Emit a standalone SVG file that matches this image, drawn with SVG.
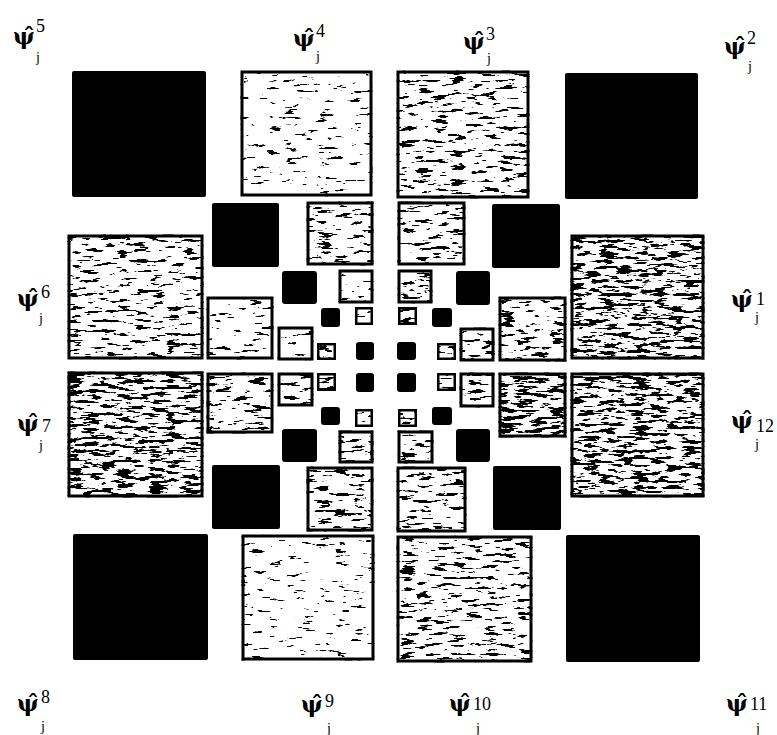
<svg xmlns="http://www.w3.org/2000/svg" width="777" height="735" viewBox="0 0 777 735">
<style>
.blk{fill:#000}
.tex{fill:#fff;stroke:#000;stroke-width:3}
.tl{filter:url(#tL)}
.tm{filter:url(#tM)}
.td{filter:url(#tD)}
.lab{font-family:"Liberation Serif",serif;fill:#000}
.psi{font-family:"DejaVu Serif",serif;font-weight:bold;font-size:23px}
.sup{font-size:18px}
.sub{font-size:14px}
</style>
<defs>
<filter id="tL" x="-0.05" y="-0.05" width="1.1" height="1.1" color-interpolation-filters="sRGB">
<feTurbulence type="fractalNoise" baseFrequency="0.06 0.3" numOctaves="4" seed="4" result="n"/>
<feColorMatrix in="n" type="matrix" values="0 0 0 0 0  0 0 0 0 0  0 0 0 0 0  -1 0 0 0 1" result="a"/>
<feComponentTransfer in="a" result="s"><feFuncA type="linear" slope="25" intercept="-16.6"/></feComponentTransfer>
<feComposite in="s" in2="SourceGraphic" operator="in" result="c"/>
<feMerge><feMergeNode in="SourceGraphic"/><feMergeNode in="c"/></feMerge>
</filter>
<filter id="tM" x="-0.05" y="-0.05" width="1.1" height="1.1" color-interpolation-filters="sRGB">
<feTurbulence type="fractalNoise" baseFrequency="0.06 0.3" numOctaves="4" seed="9" result="n"/>
<feColorMatrix in="n" type="matrix" values="0 0 0 0 0  0 0 0 0 0  0 0 0 0 0  -1 0 0 0 1" result="a"/>
<feComponentTransfer in="a" result="s"><feFuncA type="linear" slope="25" intercept="-15"/></feComponentTransfer>
<feComposite in="s" in2="SourceGraphic" operator="in" result="c"/>
<feMerge><feMergeNode in="SourceGraphic"/><feMergeNode in="c"/></feMerge>
</filter>
<filter id="tD" x="-0.05" y="-0.05" width="1.1" height="1.1" color-interpolation-filters="sRGB">
<feTurbulence type="fractalNoise" baseFrequency="0.06 0.3" numOctaves="4" seed="17" result="n"/>
<feColorMatrix in="n" type="matrix" values="0 0 0 0 0  0 0 0 0 0  0 0 0 0 0  -1 0 0 0 1" result="a"/>
<feComponentTransfer in="a" result="s"><feFuncA type="linear" slope="25" intercept="-13.2"/></feComponentTransfer>
<feComposite in="s" in2="SourceGraphic" operator="in" result="c"/>
<feMerge><feMergeNode in="SourceGraphic"/><feMergeNode in="c"/></feMerge>
</filter>
</defs>
<rect width="777" height="735" fill="#fff"/>
<g id="scale1">
<rect class="blk" x="72" y="71" width="134" height="126" rx="2"/>
<rect class="tex tl" x="242" y="72" width="129" height="123"/>
<rect class="tex tm" x="398" y="72" width="130" height="125"/>
<rect class="blk" x="565" y="73" width="133" height="126" rx="2"/>
<rect class="tex tm" x="69" y="236" width="133" height="122"/>
<rect class="tex td" x="69" y="373" width="133" height="123"/>
<rect class="tex td" x="572" y="236" width="131" height="122"/>
<rect class="tex td" x="572" y="374" width="131" height="122"/>
<rect class="blk" x="73" y="534" width="135" height="126" rx="2"/>
<rect class="tex tl" x="243" y="536" width="130" height="123"/>
<rect class="tex tm" x="398" y="537" width="133" height="124"/>
<rect class="blk" x="566" y="535" width="134" height="127" rx="2"/>
</g>
<g id="scale2">
<rect class="blk" x="212" y="203" width="67" height="64" rx="2"/>
<rect class="tex tm" x="308" y="203" width="64" height="61"/>
<rect class="tex tm" x="399" y="203" width="65" height="61"/>
<rect class="blk" x="492" y="204" width="68" height="64" rx="2"/>
<rect class="tex tl" x="208" y="298" width="64" height="60"/>
<rect class="tex tm" x="208" y="374" width="64" height="58"/>
<rect class="tex tm" x="500" y="298" width="65" height="62"/>
<rect class="tex td" x="500" y="374" width="65" height="62"/>
<rect class="blk" x="212" y="465" width="68" height="64" rx="2"/>
<rect class="tex tm" x="308" y="468" width="64" height="62"/>
<rect class="tex tm" x="398" y="468" width="67" height="63"/>
<rect class="blk" x="493" y="466" width="68" height="64" rx="2"/>
</g>
<g id="scale3">
<rect class="blk" x="282" y="271" width="35" height="33" rx="3"/>
<rect class="tex tl" x="340" y="271" width="32" height="31"/>
<rect class="tex tm" x="399" y="271" width="32" height="31"/>
<rect class="blk" x="456" y="271" width="34" height="34" rx="3"/>
<rect class="tex tl" x="279" y="328" width="33" height="31"/>
<rect class="tex tm" x="461" y="329" width="32" height="31"/>
<rect class="tex tm" x="279" y="374" width="33" height="31"/>
<rect class="tex tm" x="461" y="374" width="32" height="32"/>
<rect class="blk" x="282" y="429" width="35" height="33" rx="3"/>
<rect class="tex tm" x="340" y="432" width="32" height="30"/>
<rect class="tex tm" x="399" y="432" width="33" height="30"/>
<rect class="blk" x="456" y="429" width="34" height="33" rx="3"/>
</g>
<g id="scale4">
<rect class="blk" x="321" y="308" width="19" height="19" rx="3"/>
<rect class="tex tm" x="356" y="308" width="16" height="16"/>
<rect class="tex tm" x="399" y="308" width="17" height="16"/>
<rect class="blk" x="432" y="308" width="20" height="19" rx="3"/>
<rect class="tex tm" x="318" y="344" width="17" height="15"/>
<rect class="blk" x="356" y="342" width="18" height="18" rx="3"/>
<rect class="blk" x="397" y="342" width="19" height="18" rx="3"/>
<rect class="tex tm" x="438" y="344" width="17" height="15"/>
<rect class="tex tm" x="318" y="374" width="17" height="16"/>
<rect class="blk" x="356" y="373" width="18" height="19" rx="3"/>
<rect class="blk" x="397" y="373" width="19" height="19" rx="3"/>
<rect class="tex tm" x="438" y="374" width="17" height="16"/>
<rect class="blk" x="321" y="407" width="19" height="18" rx="3"/>
<rect class="tex tm" x="356" y="410" width="16" height="16"/>
<rect class="tex tm" x="399" y="410" width="17" height="16"/>
<rect class="blk" x="432" y="407" width="20" height="18" rx="3"/>
</g>
<g id="labels">
<g id="label-5"><text class="lab"><tspan class="psi" x="13" y="44">ψ̂</tspan><tspan class="sup" x="36" y="32">5</tspan><tspan class="sub" x="36" y="62">j</tspan></text></g>
<g id="label-4"><text class="lab"><tspan class="psi" x="293" y="46">ψ̂</tspan><tspan class="sup" x="316" y="37">4</tspan><tspan class="sub" x="316" y="61">j</tspan></text></g>
<g id="label-3"><text class="lab"><tspan class="psi" x="463" y="49">ψ̂</tspan><tspan class="sup" x="486" y="40">3</tspan><tspan class="sub" x="487" y="63">j</tspan></text></g>
<g id="label-2"><text class="lab"><tspan class="psi" x="724" y="54">ψ̂</tspan><tspan class="sup" x="747" y="44">2</tspan><tspan class="sub" x="748" y="71">j</tspan></text></g>
<g id="label-6"><text class="lab"><tspan class="psi" x="17" y="306">ψ̂</tspan><tspan class="sup" x="41" y="298">6</tspan><tspan class="sub" x="39" y="323">j</tspan></text></g>
<g id="label-1"><text class="lab"><tspan class="psi" x="731" y="307">ψ̂</tspan><tspan class="sup" x="756" y="305">1</tspan><tspan class="sub" x="755" y="322">j</tspan></text></g>
<g id="label-7"><text class="lab"><tspan class="psi" x="17" y="431">ψ̂</tspan><tspan class="sup" x="42" y="432">7</tspan><tspan class="sub" x="39" y="450">j</tspan></text></g>
<g id="label-12"><text class="lab"><tspan class="psi" x="731" y="428">ψ̂</tspan><tspan class="sup" x="756" y="432">12</tspan><tspan class="sub" x="755" y="449">j</tspan></text></g>
<g id="label-8"><text class="lab"><tspan class="psi" x="17" y="711">ψ̂</tspan><tspan class="sup" x="41" y="703">8</tspan><tspan class="sub" x="41" y="731">j</tspan></text></g>
<g id="label-9"><text class="lab"><tspan class="psi" x="301" y="712">ψ̂</tspan><tspan class="sup" x="325" y="707">9</tspan><tspan class="sub" x="327" y="733">j</tspan></text></g>
<g id="label-10"><text class="lab"><tspan class="psi" x="449" y="711">ψ̂</tspan><tspan class="sup" x="473" y="710">10</tspan><tspan class="sub" x="476" y="733">j</tspan></text></g>
<g id="label-11"><text class="lab"><tspan class="psi" x="726" y="711">ψ̂</tspan><tspan class="sup" x="750" y="710">11</tspan><tspan class="sub" x="756" y="733">j</tspan></text></g>
</g>
</svg>
